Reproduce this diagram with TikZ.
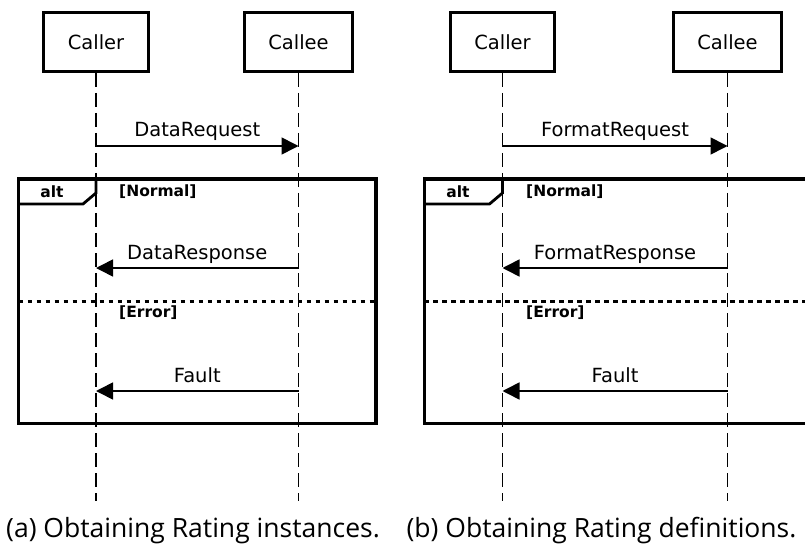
\documentclass[tikz,border=0pt]{standalone}
\usepackage{fontspec}
\setmainfont{DejaVu Sans}
\newfontfamily\capfont{Open Sans}
\usetikzlibrary{arrows.meta}
\begin{document}
\begin{tikzpicture}[x=1pt,y=-1pt,
  actor/.style={draw, line width=3pt, minimum height=59pt, inner xsep=24pt, inner ysep=0pt,
    font=\fontsize{19.5}{20}\selectfont},
  life/.style={line width=1.5pt, dash pattern=on 14pt off 6pt},
  msg/.style={line width=1.6pt, -{Triangle[length=17pt,width=17pt]}},
  msglabel/.style={font=\fontsize{19.5}{20}\selectfont, anchor=base, inner sep=0pt, yshift=9pt},
  frm/.style={line width=3.4pt},
  tabline/.style={line width=2.8pt, line join=miter},
  sepline/.style={line width=3pt, dash pattern=on 4.5pt off 4.5pt},
  guard/.style={font=\bfseries\fontsize{15.5}{16}\selectfont, anchor=west, inner sep=0pt},
  alttxt/.style={font=\bfseries\fontsize{15.5}{16}\selectfont, inner sep=0pt},
  captxt/.style={font=\capfont\fontsize{26.5}{29}\selectfont, anchor=base, inner sep=0pt}
]
\clip (0,0) rectangle (805,553);

% ---------- panel (a) ----------
\node[actor] (callerA) at (96,42) {Caller};
\node[actor] (calleeA) at (298.5,42) {Callee};
\coordinate (callerAend) at (96,501);
\coordinate (calleeAend) at (298.5,501);
\draw[life] (callerA) -- (callerAend);
\draw[life] (calleeA) -- (calleeAend);

\coordinate (a1s) at (96,146);   \coordinate (a1e) at (298.5,146);
\coordinate (a2s) at (298.5,268);\coordinate (a2e) at (96,268);
\coordinate (a3s) at (298.5,391);\coordinate (a3e) at (96,391);
\draw[msg] (a1s) -- node[msglabel] {DataRequest} (a1e);
\draw[msg] (a2s) -- node[msglabel] {DataResponse} (a2e);
\draw[msg] (a3s) -- node[msglabel] {Fault} (a3e);

\draw[frm] (18.5,179) rectangle (376,423.7);
\draw[tabline] (18.5,179) -- (96,179) -- (96,193) -- (83,204) -- (18.5,204);
\node[alttxt] (altA) at (52,192) {alt};
\node[guard] (normA) at (119,192) {[Normal]};
\draw[sepline] (18.5,301.7) -- (376,301.7);
\node[guard] (errA) at (119,313) {[Error]};

\node[captxt] (capA) at (193,537) {(a) Obtaining Rating instances.};

% ---------- panel (b) ----------
\node[actor] (callerB) at (502.5,42) {Caller};
\node[actor] (calleeB) at (727.5,42) {Callee};
\coordinate (callerBend) at (502.5,501);
\coordinate (calleeBend) at (727.5,501);
\draw[life] (callerB) -- (callerBend);
\draw[life] (calleeB) -- (calleeBend);

\coordinate (b1s) at (502.5,146);\coordinate (b1e) at (727.5,146);
\coordinate (b2s) at (727.5,268);\coordinate (b2e) at (502.5,268);
\coordinate (b3s) at (727.5,391);\coordinate (b3e) at (502.5,391);
\draw[msg] (b1s) -- node[msglabel] {FormatRequest} (b1e);
\draw[msg] (b2s) -- node[msglabel] {FormatResponse} (b2e);
\draw[msg] (b3s) -- node[msglabel] {Fault} (b3e);

\draw[frm] (424.3,179) rectangle (815,423.7);
\draw[tabline] (424.3,179) -- (502.5,179) -- (502.5,193) -- (489.5,204) -- (424.3,204);
\node[alttxt] (altB) at (458,192) {alt};
\node[guard] (normB) at (526,192) {[Normal]};
\draw[sepline] (424.3,301.7) -- (815,301.7);
\node[guard] (errB) at (526,313) {[Error]};

\node[captxt] (capB) at (601.5,537) {(b) Obtaining Rating definitions.};
\end{tikzpicture}
\end{document}
